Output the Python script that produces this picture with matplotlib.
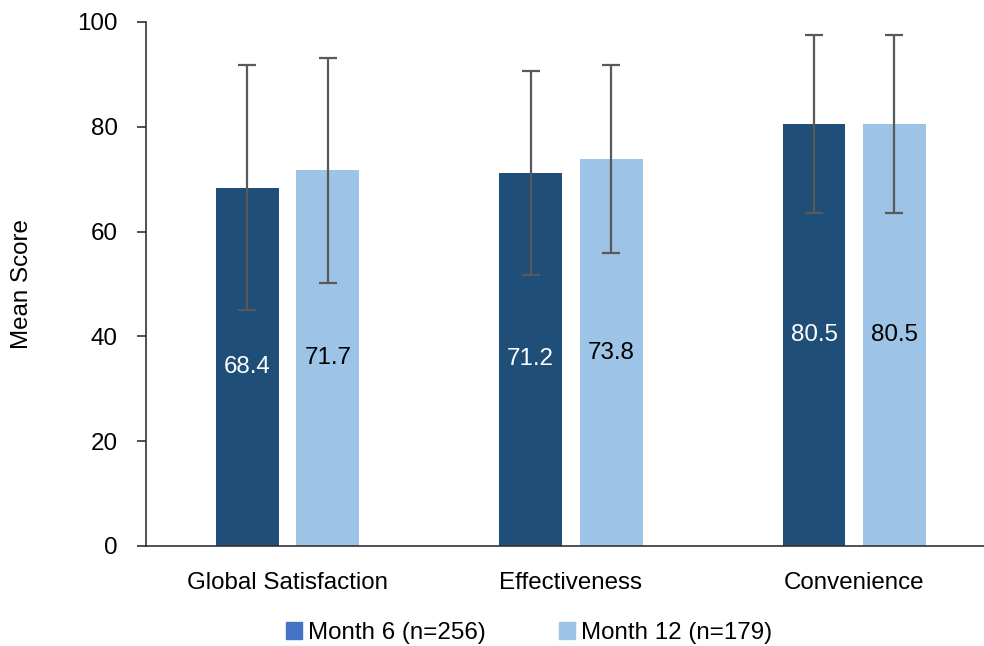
import matplotlib.pyplot as plt
import numpy as np
from matplotlib.patches import Patch

plt.rcParams['font.family'] = ['Liberation Sans', 'DejaVu Sans']

# Data
categories = ['Global Satisfaction', 'Effectiveness', 'Convenience']
month6 = [68.4, 71.2, 80.5]
month12 = [71.7, 73.8, 80.5]
month6_sd = [23.3, 19.5, 17.0]
month12_sd = [21.5, 17.9, 17.0]
series_labels = ['Month 6 (n=256)', 'Month 12 (n=179)']

dark = '#1F4E79'
light = '#9DC3E6'
legend_dark = '#4472C4'
err_color = '#595959'
fs = 17.4

fig = plt.figure(figsize=(9.84, 6.46), dpi=100)
ax = fig.add_axes([146 / 984, 1 - 546 / 646, 1 - 146 / 984, (546 - 22) / 646])

x = np.arange(len(categories))
w = 0.222
off = 0.142

# Bars with error bars
ax.bar(x - off, month6, w, color=dark, zorder=2)
ax.bar(x + off, month12, w, color=light, zorder=2)
ax.errorbar(x - off, month6, yerr=month6_sd, fmt='none', ecolor=err_color,
            elinewidth=1.6, capsize=6.7, capthick=1.6, zorder=3)
ax.errorbar(x + off, month12, yerr=month12_sd, fmt='none', ecolor=err_color,
            elinewidth=1.6, capsize=6.7, capthick=1.6, zorder=3)

# Value labels in the middle of each bar
for xi, v in zip(x - off, month6):
    ax.text(xi, v / 2, f'{v:.1f}', ha='center', va='center',
            color='white', fontsize=fs, zorder=4)
for xi, v in zip(x + off, month12):
    ax.text(xi, v / 2, f'{v:.1f}', ha='center', va='center',
            color='black', fontsize=fs, zorder=4)

# Axes styling
ax.set_xlim(-0.5, -0.5 + (984 - 146) / 283.3)
ax.set_ylim(0, 100)
ax.set_yticks(range(0, 101, 20))
ax.set_xticks(x)
ax.set_xticklabels(categories)
ax.tick_params(axis='x', length=0, pad=19, labelsize=fs)
ax.tick_params(axis='y', length=8.7 * 0.72, width=1.2, pad=14,
               labelsize=fs, color='#333333')
for s in ['top', 'right']:
    ax.spines[s].set_visible(False)
for s in ['left', 'bottom']:
    ax.spines[s].set_linewidth(1.2)
    ax.spines[s].set_color('#333333')

fig.text(22 / 984, 1 - 284 / 646, 'Mean Score', rotation=90,
         ha='center', va='center', fontsize=fs)

# Legend
handles = [Patch(color=legend_dark), Patch(color=light)]
fig.legend(handles, series_labels, loc='center',
           bbox_to_anchor=(529 / 984, 1 - 633 / 646), ncol=2, frameon=False,
           fontsize=fs, handlelength=0.66, handleheight=0.66,
           handletextpad=0.25, columnspacing=3.06, borderpad=0)

fig.savefig('out.png', dpi=100)
